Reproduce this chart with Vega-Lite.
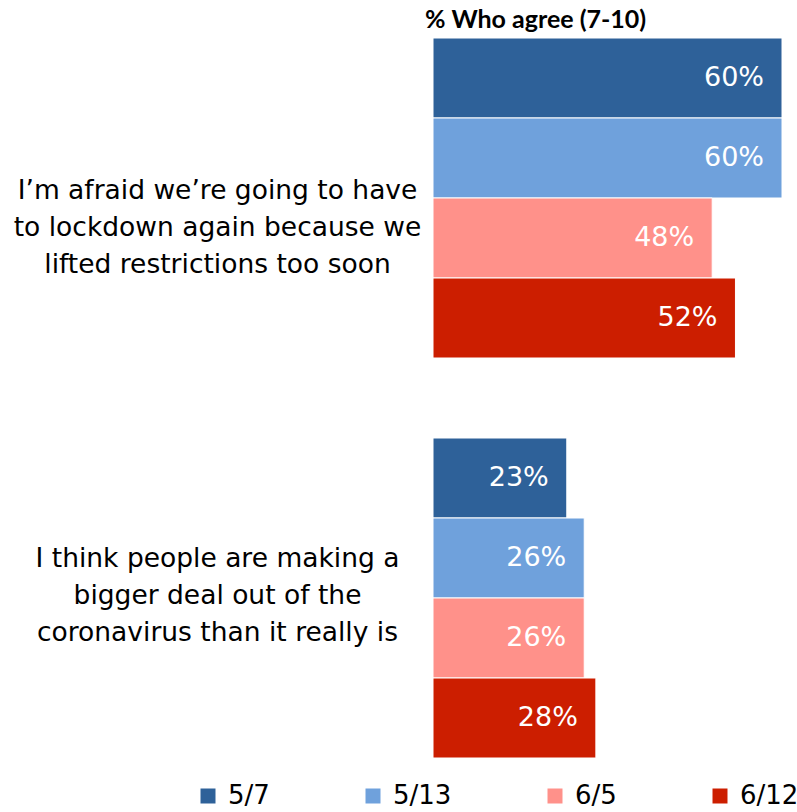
{
  "$schema": "https://vega.github.io/schema/vega-lite/v6.json",
  "width": 349,
  "height": 720,
  "autosize": {"type": "none"},
  "padding": {"left": 433, "top": 38, "right": 15, "bottom": 54},
  "background": "white",
  "config": {"view": {"stroke": null}},
  "title": {"text": "% Who agree (7-10)", "anchor": "start", "frame": "group", "fontSize": 25, "fontWeight": "bold", "font": "Lato", "dx": -8, "offset": 5, "color": "#000"},
  "data": {"values": [
    {"statement": "lockdown", "date": "5/7", "pct": 60, "label": "60%"},
    {"statement": "lockdown", "date": "5/13", "pct": 60, "label": "60%"},
    {"statement": "lockdown", "date": "6/5", "pct": 48, "label": "48%"},
    {"statement": "lockdown", "date": "6/12", "pct": 52, "label": "52%"},
    {"statement": "bigger deal", "date": "5/7", "pct": 23, "label": "23%"},
    {"statement": "bigger deal", "date": "5/13", "pct": 26, "label": "26%"},
    {"statement": "bigger deal", "date": "6/5", "pct": 26, "label": "26%"},
    {"statement": "bigger deal", "date": "6/12", "pct": 28, "label": "28%"}
  ]},
  "encoding": {
    "y": {"field": "statement", "type": "nominal", "sort": ["lockdown", "bigger deal"],
      "scale": {"paddingInner": 0.2, "paddingOuter": 0},
      "axis": {"title": null, "domain": false, "ticks": false, "labelFontSize": 26.5, "labelFont": "DejaVu Sans", "labelColor": "#000",
        "labelAlign": "center", "labelPadding": 216, "labelLimit": 0, "labelLineHeight": 37, "labelBaseline": "middle",
        "labelOffset": {"condition": {"test": "datum.value == 'lockdown'", "value": -7}, "value": -39},
        "labelExpr": "datum.value == 'lockdown' ? ['I’m afraid we’re going to have', 'to lockdown again because we', 'lifted restrictions too soon'] : ['I think people are making a', 'bigger deal out of the', 'coronavirus than it really is']"}},
    "yOffset": {"field": "date", "type": "nominal", "sort": ["5/7", "5/13", "6/5", "6/12"], "scale": {"paddingInner": 0, "paddingOuter": 0}},
    "x": {"field": "pct", "type": "quantitative", "scale": {"domain": [0, 60]}, "axis": null}
  },
  "layer": [
    {"mark": {"type": "bar", "stroke": "white", "strokeWidth": 1},
     "encoding": {"color": {"field": "date", "type": "nominal",
       "scale": {"domain": ["5/7", "5/13", "6/5", "6/12"], "range": ["#2E6199", "#6FA1DC", "#FF918A", "#CC1E00"]},
       "legend": {"orient": "none", "legendX": -238, "legendY": 745, "direction": "horizontal", "columns": 4, "title": null,
         "symbolType": "square", "symbolSize": 225, "symbolStrokeWidth": 0, "symbolOpacity": 1, "labelFontSize": 26, "labelFont": "DejaVu Sans",
         "labelColor": "#000", "gridAlign": "none", "columnPadding": 90, "labelOffset": 7}}}},
    {"mark": {"type": "text", "align": "right", "dx": -18, "color": "white", "fontSize": 27, "font": "DejaVu Sans"},
     "encoding": {"text": {"field": "label", "type": "nominal"}}}
  ]
}
